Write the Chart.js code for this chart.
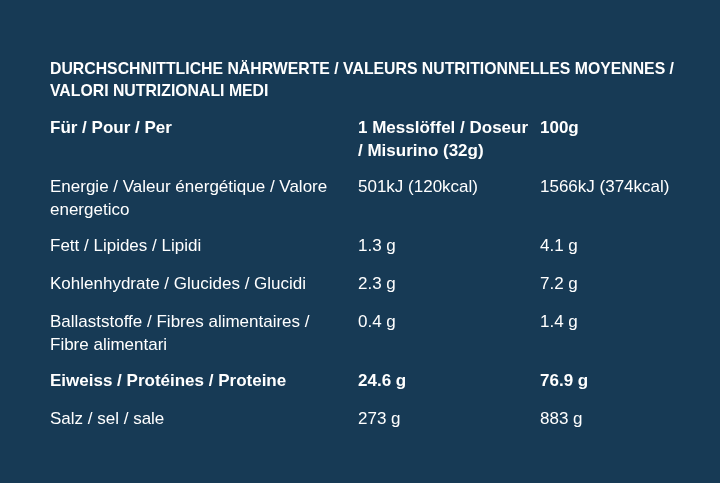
<!DOCTYPE html>
<html>
<head>
<meta charset="utf-8">
<script src="https://cdn.jsdelivr.net/npm/chart.js@4"></script>
<style>
  html, body { margin: 0; padding: 0; background: #173a55; }
  #wrap { width: 720px; height: 483px; }
</style>
</head>
<body>
<div id="wrap"><canvas id="tbl"></canvas></div>
<script>
// table data
const titleLines = ['DURCHSCHNITTLICHE NÄHRWERTE / VALEURS NUTRITIONNELLES MOYENNES /', 'VALORI NUTRIZIONALI MEDI'];
const headers = [['Für / Pour / Per'], ['1 Messlöffel / Doseur', '/ Misurino (32g)'], ['100g']];
const nutrients = [
  ['Energie / Valeur énergétique / Valore', 'energetico'],
  ['Fett / Lipides / Lipidi'],
  ['Kohlenhydrate / Glucides / Glucidi'],
  ['Ballaststoffe / Fibres alimentaires /', 'Fibre alimentari'],
  ['Eiweiss / Protéines / Proteine'],
  ['Salz / sel / sale']
];
const perScoop = ['501kJ (120kcal)', '1.3 g', '2.3 g', '0.4 g', '24.6 g', '273 g'];
const per100g = ['1566kJ (374kcal)', '4.1 g', '7.2 g', '1.4 g', '76.9 g', '883 g'];
const boldRows = [4];

const FONT = '"Liberation Sans", sans-serif';
const colX = [50, 358, 540];

const tablePlugin = {
  id: 'tablePlugin',
  afterDraw(chart) {
    const ctx = chart.ctx;
    ctx.save();
    ctx.fillStyle = '#ffffff';
    ctx.textBaseline = 'alphabetic';
    ctx.font = 'bold 17px ' + FONT;
    // title is set condensed in the original, squeeze it to the same width
    const sx = 624 / ctx.measureText(titleLines[0]).width;
    ctx.save();
    ctx.translate(50, 0);
    ctx.scale(sx, 1);
    titleLines.forEach((t, i) => ctx.fillText(t, 0, 74 + i * 22));
    ctx.restore();

    let y = 133;
    const drawRow = (cells, bold) => {
      ctx.font = (bold ? 'bold ' : '') + '17px ' + FONT;
      let lines = 1;
      cells.forEach((cell, c) => {
        const arr = Array.isArray(cell) ? cell : [cell];
        arr.forEach((t, k) => ctx.fillText(t, colX[c], y + k * 23));
        lines = Math.max(lines, arr.length);
      });
      y += 17 + 21 * lines;
    };
    drawRow(headers, true);
    nutrients.forEach((n, i) => drawRow([n, perScoop[i], per100g[i]], boldRows.includes(i)));
    ctx.restore();
  }
};

new Chart(document.getElementById('tbl'), {
  type: 'bar',
  data: { labels: nutrients.map(n => n.join(' ')), datasets: [{ data: [] }] },
  options: {
    responsive: true,
    maintainAspectRatio: false,
    animation: false,
    plugins: { legend: { display: false }, tooltip: { enabled: false } },
    scales: { x: { display: false }, y: { display: false } }
  },
  plugins: [tablePlugin]
});
</script>
</body>
</html>
